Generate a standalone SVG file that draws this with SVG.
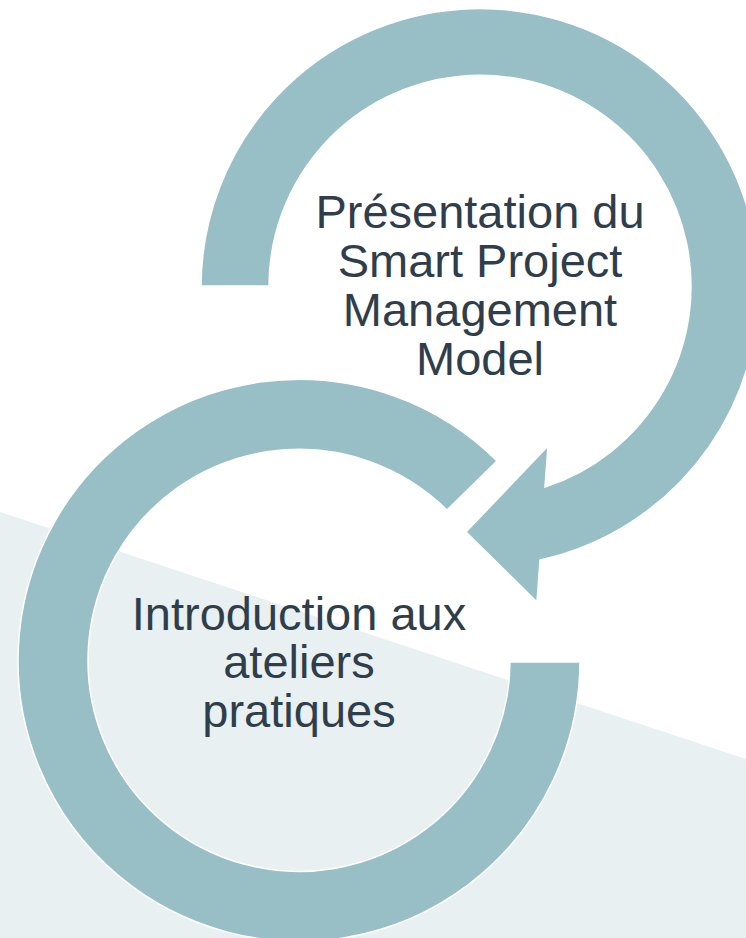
<svg xmlns="http://www.w3.org/2000/svg" width="746" height="938" viewBox="0 0 746 938">
<style>
.ring{fill:#99BFC6;stroke:#FFFFFF;stroke-width:1.5}
.lbl{font-family:"Liberation Sans",Arial,sans-serif;font-size:47px;fill:#2F3E4A;text-anchor:middle}
</style>
<rect x="0" y="0" width="746" height="938" fill="#FFFFFF"/>
<polygon points="0,512 746,759 746,938 0,938" fill="#E8F0F2"/>
<g id="node-top">
<path class="ring" d="M201,286 A279,279 0 1 1 540,560 L537,602 L466,532 L548,446 L545,487 A211,211 0 1 0 269,286 Z"/>
<text class="lbl" x="480" y="228">Présentation du</text>
<text class="lbl" x="480" y="277">Smart Project</text>
<text class="lbl" x="480" y="326">Management</text>
<text class="lbl" x="480" y="375">Model</text>
</g>
<g id="node-bottom">
<path class="ring" d="M580,662 A281,281 0 1 1 497,461 L447,510 A211,211 0 1 0 510,662 Z"/>
<text class="lbl" x="299" y="630">Introduction aux</text>
<text class="lbl" x="299" y="678">ateliers</text>
<text class="lbl" x="299" y="727">pratiques</text>
</g>
<g id="connectors"></g>
</svg>
